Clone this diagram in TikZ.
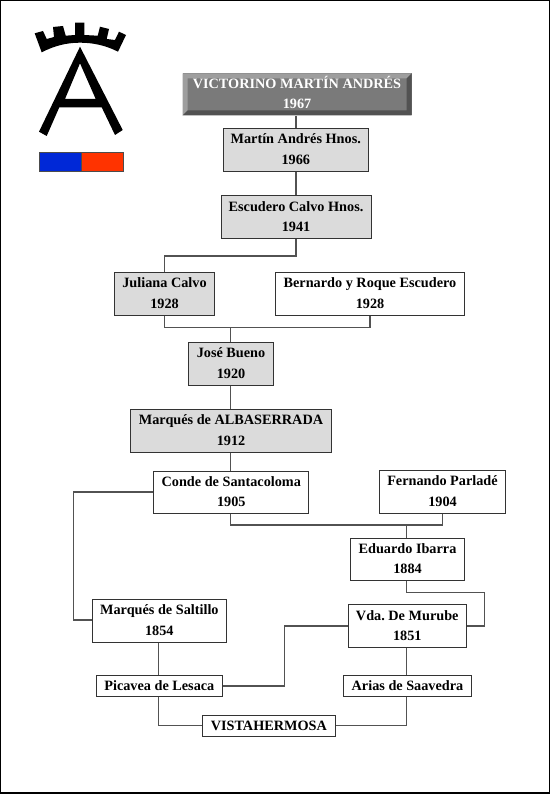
\documentclass[tikz,border=0pt]{standalone}
\usepackage{fontspec}
\setmainfont{Liberation Serif}
\tikzset{
  x=1pt,y=-1pt,
  line/.style={draw=black!68,line width=1.15pt},
  box/.style={draw=black!80,line width=1pt,fill=white,inner sep=0pt,anchor=north west,align=center,text height=30.5pt,text depth=1.5pt,font=\fontsize{14.25}{20.5}\selectfont\bfseries},
  shaded/.style={box,fill=black!14},
  single/.style={box,text height=10pt,text depth=1pt},
  bevel/.style={box,draw=none,fill=black!52,text=white,path picture={
    \fill[black!38] (path picture bounding box.north west) -- (path picture bounding box.north east) -- ++(-5,5) -| ([shift={(5,-5)}]path picture bounding box.south west) -- (path picture bounding box.south west) -- cycle;
    \fill[black!68] (path picture bounding box.south east) -- (path picture bounding box.south west) -- ++(5,-5) -| ([shift={(-5,5)}]path picture bounding box.north east) -- (path picture bounding box.north east) -- cycle;
  }},
}
\newcommand{\bx}[7][box]{\node[#1,minimum width=#5pt-#3pt,minimum height=#6pt-#4pt] (#2) at (#3,#4) {#7};}
\begin{document}
\begin{tikzpicture}
\useasboundingbox (0,0) rectangle (550,794);
\fill[white] (0,0) rectangle (550,794);
% page frame
\draw[black,line width=1.4pt] (0.6,0.6) rectangle (549.2,792.8);
% logo
\fill[black] (34.7,33.3) -- (43,31) -- (46.7,39) -- (54,37) -- (53,27) -- (63,26) -- (65.7,35.7) -- (75,35) -- (75,22.7) -- (84.3,22.7) -- (84.3,35) -- (97.7,35.7) -- (100,26.7) -- (109,29) -- (106.7,39) -- (115,40) -- (119,31.7) -- (126,35) -- (118,51.7) .. controls (105,45) and (92,42.7) .. (80,42.7) .. controls (66,42.7) and (54,46) .. (41.7,52.3) -- cycle;
\fill[black,even odd rule] (80,46.7) -- (122.7,130) -- (115,135) -- (101.7,107.3) -- (59.3,107.3) -- (46.7,136) -- (39,131.7) -- cycle (80,63.3) -- (65,99) -- (95.7,99) -- cycle;
\draw[black!70,line width=.6pt,fill={rgb,255:red,0;green,40;blue,215}] (39,152.7) rectangle (81.3,171);
\draw[black!70,line width=.6pt,fill={rgb,255:red,255;green,51;blue,0}] (81.3,152.7) rectangle (123,171);
\coordinate (tr) at (296,0);
\coordinate (jn) at (230.7,327.5);
\coordinate (ln) at (406.7,525);
\coordinate (sx) at (158.7,0);
\coordinate (rt) at (484.5,592.3);
\coordinate (lf) at (73.3,492);
\coordinate (md) at (284.7,626);
\coordinate (sl) at (73.3,620);
% nodes
\bx[bevel]{vic}{182}{73}{411}{115}{VICTORINO MARTÍN ANDRÉS\\1967}
\bx[shaded]{mar}{222.5}{128}{368}{171}{Martín Andrés Hnos.\\1966}
\bx[shaded]{esc}{220.5}{195}{370.5}{238}{Escudero Calvo Hnos.\\1941}
\bx[shaded]{jul}{114}{271.5}{214}{314.5}{Juliana Calvo\\1928}
\bx{ber}{275}{271.5}{464}{314.5}{Bernardo y Roque Escudero\\1928}
\bx[shaded]{jos}{188.3}{341.5}{272.7}{384.5}{José Bueno\\1920}
\bx[shaded]{alb}{130}{408.5}{331}{451.7}{Marqués de ALBASERRADA\\1912}
\bx{con}{153.3}{470.5}{308.3}{512.7}{Conde de Santacoloma\\1905}
\bx{par}{379}{470}{505}{512.7}{Fernando Parladé\\1904}
\bx{iba}{350}{537.5}{464}{580}{Eduardo Ibarra\\1884}
\bx{sal}{91.7}{598.5}{226}{641.5}{Marqués de Saltillo\\1854}
\bx{mur}{347.5}{604.3}{466}{647.3}{Vda.\ De Murube\\1851}
\bx[single]{pic}{95.7}{675}{222}{696}{Picavea de Lesaca}
\bx[single]{ari}{343}{675}{471}{696}{Arias de Saavedra}
\bx[single]{vis}{201.7}{714.5}{335}{735.7}{VISTAHERMOSA}
% connectors
\begin{scope}[line]
\draw (vic.south -| tr) -- (mar.north -| tr);
\draw (mar.south -| tr) -- (esc.north -| tr);
\draw (esc.south -| tr) -- ++(0,17) -| (jul.north);
\draw (jul.south) |- (ber.south |- jn) -- (ber.south);
\draw (jos.north -| jn) -- (jn);
\draw (jos.south -| jn) -- (alb.north -| jn);
\draw (alb.south -| jn) -- (con.north -| jn);
\draw (con.south -| jn) |- (ln) -| (par.south);
\draw (ln) -- (iba.north -| ln);
\draw (iba.south -| ln) |- (rt) |- (mur.east |- md);
\draw (con.west |- lf) -| (sl) -- (sal.west |- sl);
\draw (sal.south -| sx) -- (pic.north -| sx);
\draw (pic.east) -| (md) -- (mur.west |- md);
\draw (mur.south -| ln) -- (ari.north -| ln);
\draw (pic.south -| sx) |- (vis.west);
\draw (ari.south -| ln) |- (vis.east);
\end{scope}
\end{tikzpicture}
\end{document}
